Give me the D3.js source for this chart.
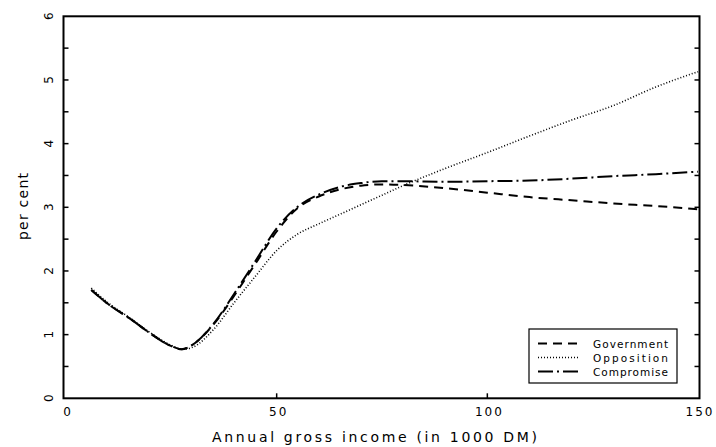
<!DOCTYPE html>
<html>
<head>
<meta charset="utf-8">
<script src="https://cdn.jsdelivr.net/npm/d3@7"></script>
<style>
  body { margin: 0; background: #fff; }
  svg { display: block; }
  text { font-family: "DejaVu Sans", sans-serif; fill: #000; }
</style>
</head>
<body>
<svg id="chart" width="716" height="447"></svg>
<script>
// income grid, in 1000 DM
var income = [6, 10, 15, 20, 25, 27.5, 30, 35, 40, 45, 50, 55, 60, 65, 70, 75, 80, 90, 100, 110, 120, 130, 140, 150];
var government = [1.70, 1.48, 1.26, 1.02, 0.82, 0.77, 0.84, 1.16, 1.62, 2.12, 2.62, 2.99, 3.17, 3.28, 3.34, 3.36, 3.35, 3.30, 3.23, 3.16, 3.11, 3.06, 3.02, 2.97];
var opposition = [1.73, 1.50, 1.27, 1.03, 0.83, 0.77, 0.80, 1.08, 1.51, 1.92, 2.32, 2.58, 2.74, 2.89, 3.04, 3.19, 3.34, 3.61, 3.86, 4.12, 4.37, 4.60, 4.89, 5.13];
var compromise = [1.70, 1.48, 1.26, 1.02, 0.82, 0.77, 0.84, 1.17, 1.65, 2.16, 2.67, 3.01, 3.20, 3.32, 3.38, 3.41, 3.41, 3.40, 3.41, 3.42, 3.45, 3.49, 3.52, 3.56];
var seriesNames = ["Government", "Opposition", "Compromise"];
var xTicks = [0, 50, 100, 150];
var yTicks = [0, 1, 2, 3, 4, 5, 6];

var svg = d3.select("#chart");
var plotL = 63.5, plotR = 699.5, plotT = 16.3, plotB = 398.3;

var x = d3.scaleLinear().domain([0, 150]).range([66, 698]);
var y = d3.scaleLinear().domain([0, 6]).range([plotB, plotT]);

var styles = {
    Government: { dash: "9,6", width: 2 },
    Opposition: { dash: "1,2", width: 1.6 },
    Compromise: { dash: "15,4,2,4", width: 2 }
};
var values = { Government: government, Opposition: opposition, Compromise: compromise };

// inner ticks on left and right axes, every 0.5
var minor = d3.range(0.5, 6, 0.5);
svg.append("g").selectAll("line").data(minor).enter().append("line")
    .attr("x1", plotL).attr("x2", plotL + 5)
    .attr("y1", function (d) { return y(d); }).attr("y2", function (d) { return y(d); })
    .attr("stroke", "#000").attr("stroke-width", 1.5);
svg.append("g").selectAll("line").data(minor).enter().append("line")
    .attr("x1", plotR).attr("x2", plotR - 5)
    .attr("y1", function (d) { return y(d); }).attr("y2", function (d) { return y(d); })
    .attr("stroke", "#000").attr("stroke-width", 1.5);
svg.append("g").selectAll("line").data([50, 100]).enter().append("line")
    .attr("x1", function (d) { return x(d); }).attr("x2", function (d) { return x(d); })
    .attr("y1", plotB).attr("y2", plotB - 5)
    .attr("stroke", "#000").attr("stroke-width", 1.5);

// frame
svg.append("rect")
    .attr("x", plotL).attr("y", plotT)
    .attr("width", plotR - plotL).attr("height", plotB - plotT)
    .attr("fill", "none").attr("stroke", "#000").attr("stroke-width", 2);

// tick labels
svg.append("g").selectAll("text").data(xTicks).enter().append("text")
    .attr("x", function (d) { return x(d) + 2; })
    .attr("y", 416)
    .attr("text-anchor", "middle")
    .style("font-size", "12px")
    .style("letter-spacing", "2px")
    .text(function (d) { return d; });
svg.append("g").selectAll("text").data(yTicks).enter().append("text")
    .attr("transform", function (d) { return "translate(53," + y(d) + ") rotate(-90)"; })
    .attr("text-anchor", "middle")
    .style("font-size", "12px")
    .text(function (d) { return d; });

// axis titles
svg.append("text")
    .attr("x", 212).attr("y", 442)
    .attr("textLength", 325).attr("lengthAdjust", "spacing")
    .style("font-size", "14px")
    .text("Annual gross income (in 1000 DM)");
svg.append("text")
    .attr("transform", "translate(28,240) rotate(-90)")
    .attr("textLength", 67).attr("lengthAdjust", "spacing")
    .style("font-size", "14px")
    .text("per cent");

// curves
var line = d3.line()
    .x(function (d) { return x(d[0]); })
    .y(function (d) { return y(d[1]); })
    .curve(d3.curveMonotoneX);
seriesNames.forEach(function (name) {
    var pts = income.map(function (v, i) { return [v, values[name][i]]; });
    svg.append("path")
        .attr("d", line(pts))
        .attr("fill", "none")
        .attr("stroke", "#000")
        .attr("stroke-width", styles[name].width)
        .attr("stroke-dasharray", styles[name].dash);
});

// legend
var legend = svg.append("g").attr("transform", "translate(529,329)");
legend.append("rect")
    .attr("width", 148).attr("height", 54)
    .attr("fill", "#fff").attr("stroke", "#000").attr("stroke-width", 1.2);
var rows = legend.selectAll("g.row").data(seriesNames).enter().append("g")
    .attr("class", "row")
    .attr("transform", function (d, i) { return "translate(0," + (14.5 + i * 14) + ")"; });
rows.append("line")
    .attr("x1", 9).attr("x2", 51).attr("y1", 0).attr("y2", 0)
    .attr("stroke", "#000")
    .attr("stroke-width", function (d) { return styles[d].width; })
    .attr("stroke-dasharray", function (d) { return styles[d].dash; });
rows.append("text")
    .attr("x", 64).attr("y", 4)
    .attr("textLength", function (d) { return d.length * 7.5; })
    .attr("lengthAdjust", "spacing")
    .style("font-size", "10.5px")
    .text(function (d) { return d; });
</script>
</body>
</html>
